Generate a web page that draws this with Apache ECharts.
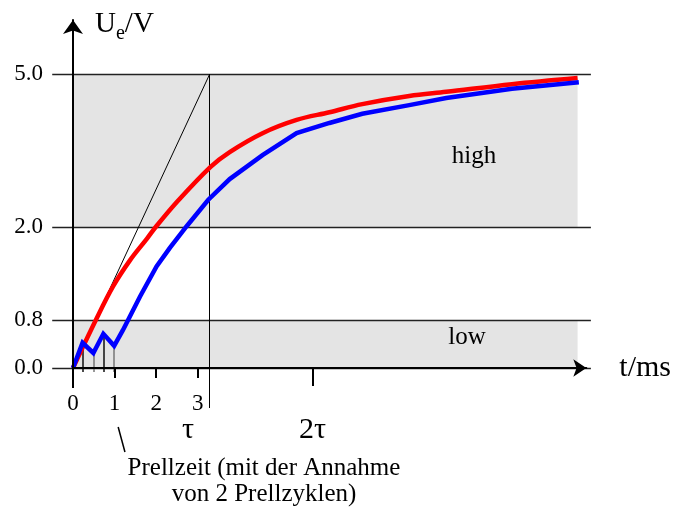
<!DOCTYPE html>
<html>
<head>
<meta charset="utf-8">
<script src="https://cdn.jsdelivr.net/npm/echarts@6/dist/echarts.min.js"></script>
<style>
  html, body { margin: 0; padding: 0; background: #fff; }
  #chart { width: 674px; height: 507px; }
</style>
</head>
<body>
<div id="chart"></div>
<script>
// Messwerte (Spannung in V, Zeit in ms)
const redT = [0, 0.55, 0.96, 1.37, 1.78, 1.99, 2.52, 3.31, 3.77, 4.56, 5.38, 6.17, 6.96, 8.09, 8.98, 10.56, 12.14]
const redV = [0, 0.80, 1.23, 1.57, 1.85, 2.00, 2.51, 3.18, 3.47, 3.84, 4.10, 4.25, 4.41, 4.57, 4.65, 4.80, 4.92]
const blueT = [0, 0.23, 0.49, 0.73, 0.99, 1.20, 1.61, 2.01, 2.33, 2.73, 3.25, 3.77, 4.56, 5.38, 6.17, 6.96, 8.09, 8.98, 10.56, 12.17]
const blueV = [0, 0.42, 0.25, 0.57, 0.37, 0.63, 1.10, 1.49, 1.73, 2.01, 2.53, 2.94, 3.41, 3.84, 4.04, 4.22, 4.39, 4.53, 4.71, 4.84]

// Prellzeitpunkte (Index in blueT)
const bounceIdx = [1, 2, 3, 4]

// Achsen
const yLevels = [0, 0.8, 2.0, 5.0]
const yLabels = ['0.0', '0.8', '2.0', '5.0']
const yLevelHeight = [0, 48, 141, 294]   // nicht lineare Skala der Vorlage
const xTickValues = [1, 2, 3]
const xLabelValues = [0, 1, 2, 3]
const tau = 3.29
const tauLabelAt = [2.77, 5.76]
const tauLabels = ['τ', '2τ']
const bandEnd = 12.14

// Spannung -> Achsenwert (stückweise linear)
function toY(v) {
  for (let i = 1; i < yLevels.length; i++) {
    if (v <= yLevels[i] || i == yLevels.length - 1) {
      const a = yLevels[i - 1], b = yLevels[i]
      return yLevelHeight[i - 1] + (v - a) / (b - a) * (yLevelHeight[i] - yLevelHeight[i - 1])
    }
  }
}
function pairs(ts, vs) {
  return ts.map((t, i) => [t, toY(vs[i])])
}
function near(a, b) { return Math.abs(a - b) < 0.01 }

const font = 'Liberation Serif'
const chart = echarts.init(document.getElementById('chart'))

// Hilfslinien
const lines = []
function addLine(a, b, color, width) {
  lines.push({ coords: [a, b], lineStyle: { color: color, width: width, opacity: 1 } })
}
yLevels.forEach(v => addLine([-0.5, toY(v)], [12.46, toY(v)], '#222', 1.3))
addLine([0, 0], [0, -20], '#000', 2)
addLine([tau, toY(5)], [tau, -40], '#000', 1)
addLine([0, 0], [tau, toY(5)], '#000', 1)
bounceIdx.forEach((k, i) => addLine([blueT[k], toY(blueV[k])], [blueT[k], -4], i % 2 ? '#777' : '#111', 1.5))
addLine([1.087, -59], [1.25, -84], '#000', 1.5)

const option = {
  animation: false,
  grid: { left: 73, right: 87, top: 20, bottom: 139 },
  xAxis: [{
    type: 'value', min: 0, max: 12.35, z: 10,
    axisLine: { onZero: false, symbol: ['none', 'arrow'], symbolSize: [13, 13], lineStyle: { color: '#000', width: 2 } },
    axisTick: { customValues: xTickValues, length: 10, lineStyle: { color: '#000', width: 2 } },
    axisLabel: { customValues: xLabelValues, margin: 24, fontSize: 23, fontFamily: font, color: '#000' },
    splitLine: { show: false },
    name: 't/ms', nameLocation: 'end', nameGap: 33,
    nameTextStyle: { fontSize: 30, fontFamily: font, color: '#000' }
  }, {
    type: 'value', min: 0, max: 12.35, position: 'bottom', z: 10,
    axisLine: { show: false },
    axisTick: { show: true, customValues: [tauLabelAt[1]], length: 18, lineStyle: { color: '#000', width: 2 } },
    axisLabel: {
      customValues: tauLabelAt, margin: 47, fontSize: 30, fontFamily: font, color: '#000',
      formatter: v => tauLabels[tauLabelAt.findIndex(a => near(a, v))]
    },
    splitLine: { show: false }
  }],
  yAxis: {
    type: 'value', min: 0, max: 348, z: 10,
    axisLine: { show: true, symbol: ['none', 'arrow'], symbolSize: [15, 14], lineStyle: { color: '#000', width: 2 } },
    axisTick: { show: false },
    splitLine: { show: false },
    axisLabel: {
      customValues: yLevels.map(toY), margin: 30, fontSize: 23, fontFamily: font, color: '#000',
      formatter: v => yLabels[yLevels.findIndex(l => near(toY(l), v))]
    },
    name: '{u|U}{s|e}{u|/V}', nameLocation: 'end', nameGap: -7,
    nameTextStyle: {
      align: 'left', verticalAlign: 'middle', padding: [0, 0, 0, 22],
      rich: {
        u: { fontSize: 29, fontFamily: font, color: '#000', lineHeight: 34, verticalAlign: 'top' },
        s: { fontSize: 20, fontFamily: font, color: '#000', lineHeight: 20, padding: [14, 0, 0, 0], verticalAlign: 'top' }
      }
    }
  },
  graphic: [{
    type: 'text', x: 264, y: 455,
    style: {
      text: 'Prellzeit (mit der Annahme\nvon 2 Prellzyklen)',
      font: '25px "Liberation Serif"', fill: '#000', align: 'center', lineHeight: 26
    }
  }],
  series: [{
    type: 'line', data: [], z: 1, silent: true,
    markArea: {
      silent: true,
      itemStyle: { color: '#e4e4e4' },
      data: [
        [{ coord: [0, toY(5)], name: 'high', label: { position: [401, 82], align: 'center', verticalAlign: 'middle' } }, { coord: [bandEnd, toY(2)] }],
        [{ coord: [0, toY(0.8)], name: 'low', label: { position: [394, 17], align: 'center', verticalAlign: 'middle' } }, { coord: [bandEnd, 0] }]
      ],
      label: { show: true, fontSize: 25, fontFamily: font, color: '#000' }
    }
  }, {
    type: 'lines', coordinateSystem: 'cartesian2d', z: 2, silent: true, clip: false,
    lineStyle: { opacity: 1 },
    data: lines
  }, {
    type: 'line', z: 3, data: pairs(redT, redV), smooth: 0.35, showSymbol: false,
    lineStyle: { color: '#ff0000', width: 4.5 }
  }, {
    type: 'line', z: 3, data: pairs(blueT, blueV), smooth: false, showSymbol: false,
    lineStyle: { color: '#0000ff', width: 4.5, join: 'miter' }
  }]
}
chart.setOption(option)
</script>
</body>
</html>
